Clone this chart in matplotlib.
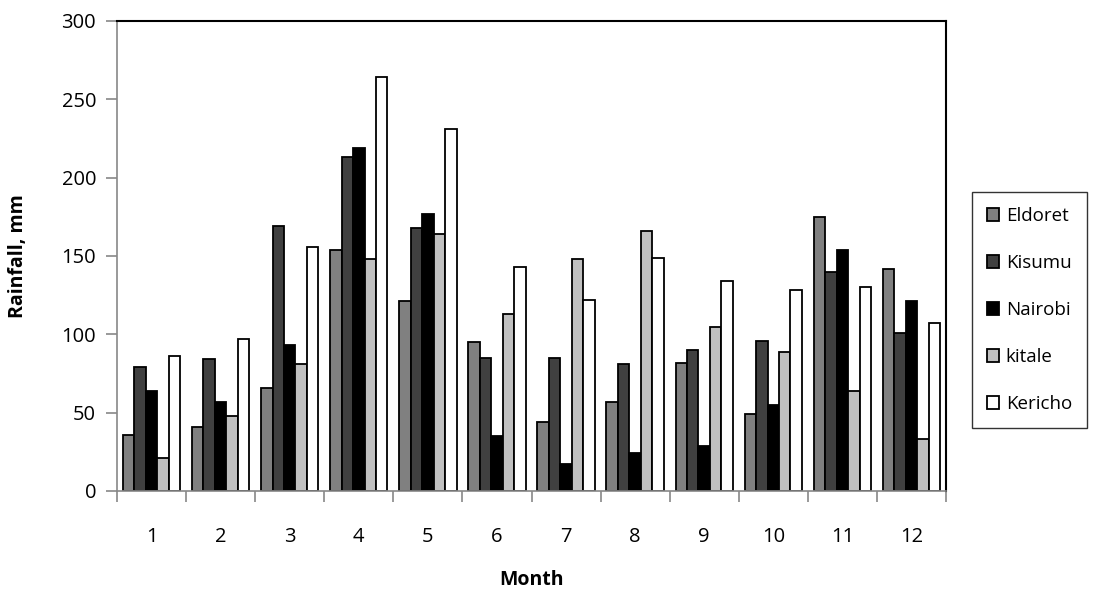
import matplotlib
matplotlib.use("Agg")
import matplotlib.pyplot as plt
import numpy as np

months = ["1", "2", "3", "4", "5", "6", "7", "8", "9", "10", "11", "12"]
series_names = ["Eldoret", "Kisumu", "Nairobi", "kitale", "Kericho"]
eldoret = [36, 41, 66, 154, 121, 95, 44, 57, 82, 49, 175, 142]
kisumu = [79, 84, 169, 213, 168, 85, 85, 81, 90, 96, 140, 101]
nairobi = [64, 57, 93, 219, 177, 35, 17, 24, 29, 55, 154, 121]
kitale = [21, 48, 81, 148, 164, 113, 148, 166, 105, 89, 64, 33]
kericho = [86, 97, 156, 264, 231, 143, 122, 149, 134, 128, 130, 107]
colors = ["#808080", "#404040", "#000000", "#c0c0c0", "#ffffff"]
yticks = [0, 50, 100, 150, 200, 250, 300]

plt.rcParams['font.family'] = ['Open Sans', 'DejaVu Sans']
fig = plt.figure(figsize=(10.98, 5.97), dpi=100)
ax = fig.add_axes([117/1098, 1 - 491/597, (946-117)/1098, (491-21)/597])

data = [eldoret, kisumu, nairobi, kitale, kericho]
x = np.arange(len(months))
w = 0.166
for i, (vals, c, name) in enumerate(zip(data, colors, series_names)):
    ax.bar(x + (i - 2) * w, vals, width=w, color=c, edgecolor="black",
           linewidth=1.3, label=name, zorder=2)

ax.set_xlim(-0.5, len(months) - 0.5)
ax.set_ylim(0, 300)
ax.set_yticks(yticks)
ax.set_yticklabels([str(v) for v in yticks], fontsize=14.5)
ax.set_xticks(x)
ax.set_xticklabels(months, fontsize=14.5)
ax.tick_params(axis='x', length=0, pad=26)
ax.set_xticks(np.arange(-0.5, len(months), 1), minor=True)
ax.tick_params(axis='x', which='minor', length=8, color='#888888', width=1.2, direction='out')
ax.tick_params(axis='y', length=8, color='#888888', width=1.2, direction='out', pad=7)
for s in ['left', 'bottom']:
    ax.spines[s].set_color('#888888')
    ax.spines[s].set_linewidth(1.2)
for s in ['top', 'right']:
    ax.spines[s].set_color('black')
    ax.spines[s].set_linewidth(1.5)

ax.set_ylabel("Rainfall, mm", fontsize=14, fontweight='bold')
ax.yaxis.set_label_coords((18 - 117) / (946 - 117), 0.5)
ax.set_xlabel("Month", fontsize=14, fontweight='bold')
ax.xaxis.set_label_coords(0.5, -(580 - 491) / (491 - 21))
ax.xaxis.label.set_va('center')
ax.yaxis.label.set_va('center')

leg = fig.legend(loc='upper left', bbox_to_anchor=(972/1098, 1 - 192/597),
                 fontsize=13.5, frameon=True, fancybox=False, edgecolor='black',
                 handlelength=0.65, handleheight=0.65, labelspacing=1.55,
                 borderpad=0.8, handletextpad=0.35, borderaxespad=0)
leg.get_frame().set_linewidth(1.0)

fig.savefig("out.png", dpi=100)
